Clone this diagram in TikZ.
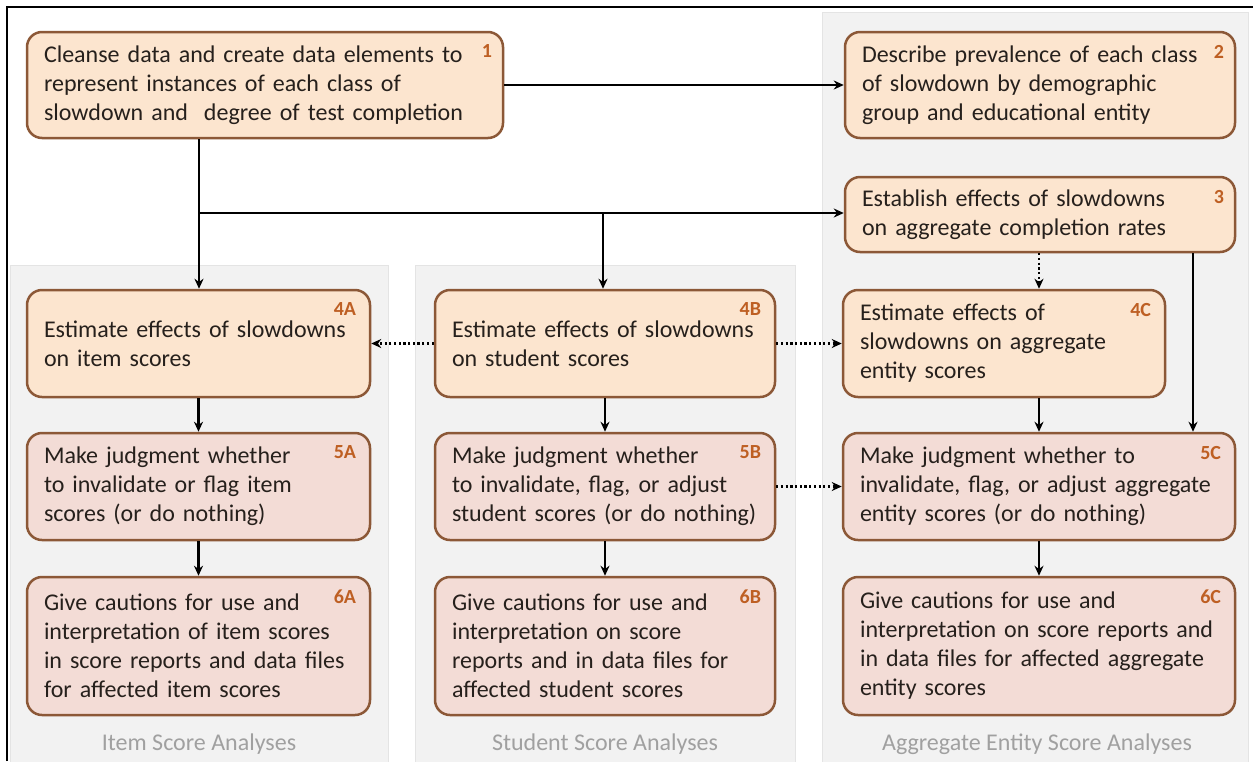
\documentclass[tikz,border=0pt]{standalone}
\usepackage{fontspec}
\setmainfont{Carlito}
\usetikzlibrary{arrows.meta,calc}
\definecolor{fillA}{RGB}{252,229,207}
\definecolor{fillB}{RGB}{243,220,214}
\definecolor{brd}{RGB}{140,88,55}
\definecolor{numc}{RGB}{190,95,35}
\definecolor{panel}{RGB}{242,242,242}
\definecolor{panelbrd}{RGB}{228,228,228}
\definecolor{lbl}{RGB}{160,160,160}
\definecolor{txt}{RGB}{38,32,28}
\tikzset{
  boxbase/.style={draw=brd, line width=2.5pt, rounded corners=15pt, align=left,
    inner xsep=17pt, inner ysep=4pt, text=txt,
    font=\fontsize{24}{29}\selectfont},
  boxtop/.style={boxbase, fill=fillA},
  boxlow/.style={boxbase, fill=fillB},
  numlbl/.style={text=numc, font=\fontsize{20}{22}\selectfont\bfseries, inner sep=0pt, anchor=north east},
  panelbox/.style={fill=panel, draw=panelbrd, line width=0.8pt},
  panellbl/.style={text=lbl, font=\fontsize{24}{28}\selectfont},
  arr/.style={line width=2.8pt, -{Stealth[length=10pt,width=9pt]}},
  darr/.style={line width=2.8pt, dash pattern=on 2.2pt off 2.5pt, -{Stealth[length=10pt,width=9pt]}},
  ln/.style={line width=2.8pt}
}
\newcommand{\mybox}[7]{% name, style, x1, y1, x2, y2, text
  \node[#2, text width={#5-#3-34pt}, minimum height={#6-#4}] (#1) at ({(#3+#5)/2},{(#4+#6)/2}) {#7};}
\begin{document}
\begin{tikzpicture}[x=1pt,y=-1pt]
\useasboundingbox (0,0) rectangle (1253,761);
\fill[white] (0,0) rectangle (1253,761);
% panels
\draw[panelbox] (10,265) rectangle (388,770);
\draw[panelbox] (415,265) rectangle (795,770);
\draw[panelbox] (822,12) rectangle (1248,770);
% frame
\draw[line width=1.5pt] (7,761) -- (7,7) -- (1253,7);
% panel labels
\node[panellbl] (la) at (199,744) {Item Score Analyses};
\node[panellbl] (lb) at (605,744) {Student Score Analyses};
\node[panellbl] (lc) at (1037,744) {Aggregate Entity Score Analyses};
% boxes
\mybox{b1}{boxtop}{27}{32}{503}{138}{Cleanse data and create data elements to\\represent instances of each class of\\slowdown and\ \ degree of test completion}
\mybox{b2}{boxtop}{845}{32}{1235}{138}{Describe prevalence of each class\\of slowdown by demographic\\group and educational entity}
\mybox{b3}{boxtop}{845}{177}{1235}{252}{Establish effects of slowdowns\\on aggregate completion rates}
\mybox{b4a}{boxtop}{27}{290}{370}{397}{Estimate effects of slowdowns\\on item scores}
\mybox{b4b}{boxtop}{435}{290}{775}{397}{Estimate effects of slowdowns\\on student scores}
\mybox{b4c}{boxtop}{843}{290}{1165}{397}{Estimate effects of\\slowdowns on aggregate\\entity scores}
\mybox{b5a}{boxlow}{27}{433}{370}{540}{Make judgment whether\\to invalidate or flag item\\scores (or do nothing)}
\mybox{b5b}{boxlow}{435}{433}{775}{540}{Make judgment whether\\to invalidate, flag, or adjust\\student scores (or do nothing)}
\mybox{b5c}{boxlow}{843}{433}{1235}{540}{Make judgment whether to\\invalidate, flag, or adjust aggregate\\entity scores (or do nothing)}
\mybox{b6a}{boxlow}{27}{577}{370}{715}{Give cautions for use and\\interpretation of item scores\\in score reports and data files\\for affected item scores}
\mybox{b6b}{boxlow}{435}{577}{775}{715}{Give cautions for use and\\interpretation on score\\reports and in data files for\\affected student scores}
\mybox{b6c}{boxlow}{843}{577}{1235}{715}{Give cautions for use and\\interpretation on score reports and\\in data files for affected aggregate\\entity scores}
% numbers
\node[numlbl] (n1) at ($(b1.north east)+(-12,14)$) {1};
\node[numlbl] (n2) at ($(b2.north east)+(-12,14)$) {2};
\node[numlbl] (n3) at ($(b3.north east)+(-12,14)$) {3};
\node[numlbl] (n4a) at ($(b4a.north east)+(-15,14)$) {4A};
\node[numlbl] (n4b) at ($(b4b.north east)+(-15,14)$) {4B};
\node[numlbl] (n4c) at ($(b4c.north east)+(-15,14)$) {4C};
\node[numlbl] (n5a) at ($(b5a.north east)+(-15,14)$) {5A};
\node[numlbl] (n5b) at ($(b5b.north east)+(-15,14)$) {5B};
\node[numlbl] (n5c) at ($(b5c.north east)+(-15,14)$) {5C};
\node[numlbl] (n6a) at ($(b6a.north east)+(-15,14)$) {6A};
\node[numlbl] (n6b) at ($(b6b.north east)+(-15,14)$) {6B};
\node[numlbl] (n6c) at ($(b6c.north east)+(-15,14)$) {6C};
% connectors
\coordinate (j1) at (199,213);
\coordinate (j2) at (603,213);
\draw[arr] (b1.east) -- (b2.west);
\draw[ln] (b1.south -| j1) -- (j1);
\draw[arr] (j1) -- (b4a.north -| j1);
\draw[arr] (j1) -- (b3.west |- j1);
\draw[arr] (j2) -- (b4b.north -| j2);
\coordinate (c1) at (1039,0);
\coordinate (c2) at (1193,0);
\draw[darr] (b3.south -| c1) -- (b4c.north -| c1);
\draw[arr] (b3.south -| c2) -- (b5c.north -| c2);
\draw[darr] (b4b.west) -- (b4a.east);
\draw[darr] (b4b.east) -- (b4c.west);
\draw[arr] (b4a) -- (b5a);
\draw[arr] (b4b) -- (b5b);
\draw[arr] (b4c.south -| b5c.north) -- (b5c.north);
\draw[darr] (b5b.east) -- (b5c.west);
\draw[arr] (b5a) -- (b6a);
\draw[arr] (b5b) -- (b6b);
\draw[arr] (b5c) -- (b6c);
\end{tikzpicture}
\end{document}
